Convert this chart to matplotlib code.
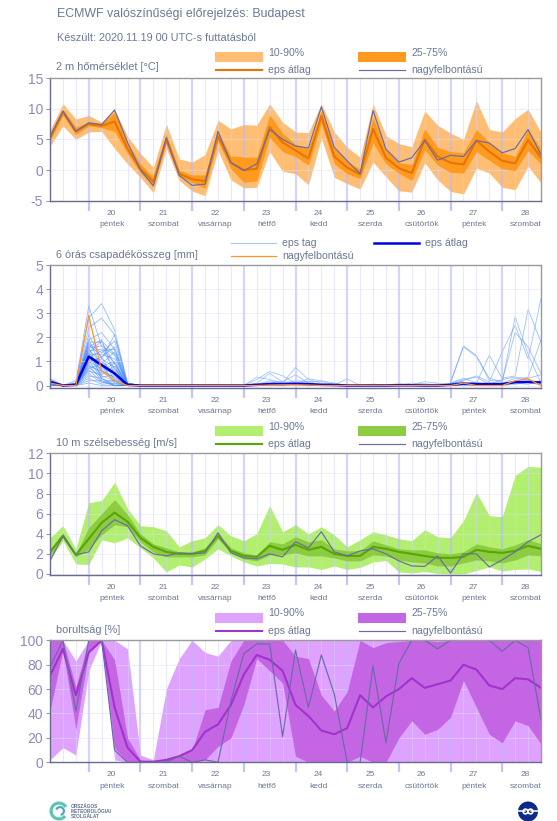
import numpy as np
import matplotlib
matplotlib.use("Agg")
import matplotlib.pyplot as plt
from matplotlib.patches import Circle, Rectangle, Wedge

# 6 hourly steps, first day line is step 3
hours = np.arange(39)
day_steps = np.arange(3, 36, 4)
day_nums = ['20', '21', '22', '23', '24', '25', '26', '27', '28']
day_names = ['péntek', 'szombat', 'vasárnap', 'hétfő', 'kedd', 'szerda', 'csütörtök', 'péntek', 'szombat']

### TEMPERATURE
t_p90 = [6.5,10.8,8.3,8.9,7.8,9.8,5.5,2.7,0.4,7.5,1.8,1.3,2.5,8.1,6.7,7.4,7.3,10.8,7.8,6.2,6.1,10.8,6.2,3.7,2.1,10.8,5.6,4.3,3.8,9.6,7.3,6.0,5.0,11.3,6.6,6.2,8.4,9.9,6.1]
t_p75 = [5.8,9.9,7.0,7.8,7.6,9.4,4.4,1.0,-1.2,5.8,0.0,-0.8,-0.8,6.2,2.3,2.1,2.1,9.0,6.0,4.2,3.5,9.7,3.5,1.4,0.1,8.6,3.3,1.2,0.9,6.7,3.7,3.0,2.8,6.6,4.5,2.8,2.2,6.6,3.4]
t_p25 = [4.8,8.9,5.8,7.2,6.9,6.3,2.7,-0.5,-2.5,4.3,-1.0,-2.0,-3.0,4.7,0.2,-2.0,-1.8,5.3,3.0,2.2,0.8,7.6,1.0,-0.6,-1.4,4.4,1.0,-0.5,-1.7,3.3,0.8,-0.4,-0.5,3.0,1.6,0.2,-0.1,3.1,1.0]
t_p10 = [3.9,7.2,5.0,6.2,6.3,3.5,1.0,-1.2,-3.7,3.5,-1.7,-3.4,-4.2,3.2,-1.6,-2.9,-2.8,3.0,-0.2,-0.6,-2.4,5.2,-1.2,-2.2,-3.1,1.3,-1.1,-3.4,-3.6,1.2,-1.6,-3.5,-3.9,0.3,-0.5,-2.8,-3.2,0.6,-2.1]
t_mean = [5.2,9.5,6.3,7.5,7.2,7.9,3.5,0.2,-1.9,5.0,-0.6,-1.5,-1.8,5.5,1.2,0.0,0.2,7.0,4.5,3.2,1.9,8.8,2.2,0.4,-0.7,6.7,2.0,0.3,-0.5,5.0,2.2,1.2,0.9,4.8,3.0,1.5,1.1,4.9,2.0]
t_hres = [5.5,9.6,6.3,7.7,7.4,9.8,4.5,0.0,-2.6,5.3,-0.9,-2.5,-2.3,6.3,1.2,-0.1,1.0,6.6,5.0,3.9,3.6,10.3,3.7,1.5,-0.6,9.7,3.4,1.3,2.0,4.8,1.6,2.4,2.2,4.8,4.4,2.8,3.5,6.6,2.5]

### PRECIPITATION
p_mean = [0.15,0.0,0.03,1.2,0.85,0.5,0.03,0,0,0,0,0,0,0,0,0,0.03,0.06,0.06,0.07,0.06,0.03,0.02,0,0,0,0,0.01,0.01,0,0,0.03,0.08,0.06,0.06,0.06,0.14,0.15,0.13]
p_hres = [0.1,0.0,0.0,2.9,0.6,0.2,0.0,0,0,0,0,0,0,0,0,0,0.0,0.02,0.03,0.03,0.02,0,0,0,0,0,0,0,0,0,0,0.0,0.1,0.0,0.0,0.0,0.2,0.28,0.0]
# members, steps 0-7
p_early = [
    [0.3,0.0,0.1,3.3,1.6,0.9,0.1,0], [0.25,0.0,0.2,2.8,3.4,2.3,0.1,0], [0.2,0.0,0.1,2.4,2.8,2.1,0.05,0],
    [0.2,0.0,0.05,2.1,1.1,2.1,0.05,0], [0.15,0.0,0.1,1.9,2.2,1.5,0.02,0], [0.15,0.0,0.0,1.8,1.8,0.9,0.0,0],
    [0.1,0.0,0.05,1.7,1.2,1.6,0.1,0], [0.1,0.0,0.0,1.6,1.9,0.4,0.0,0], [0.1,0.0,0.0,1.5,0.9,1.4,0.0,0],
    [0.05,0.0,0.0,1.45,1.5,0.7,0.0,0], [0.1,0.0,0.02,1.4,0.6,0.3,0.0,0], [0.2,0.0,0.0,1.3,1.3,1.1,0.1,0],
    [0.05,0.0,0.0,1.25,0.4,0.2,0.0,0], [0.1,0.0,0.0,1.2,1.0,0.5,0.0,0], [0.05,0.0,0.0,1.1,0.8,1.0,0.0,0],
    [0.1,0.0,0.0,1.05,0.3,0.05,0.0,0], [0.05,0.0,0.0,1.0,0.7,0.6,0.0,0], [0.0,0.0,0.0,0.95,1.2,0.2,0.0,0],
    [0.1,0.0,0.0,0.9,0.5,0.8,0.0,0], [0.05,0.0,0.0,0.85,0.2,0.0,0.0,0], [0.0,0.0,0.0,0.8,0.6,0.35,0.0,0],
    [0.05,0.0,0.0,0.7,0.9,0.1,0.0,0], [0.0,0.0,0.0,0.65,0.15,0.0,0.0,0], [0.1,0.0,0.0,0.6,0.45,0.7,0.0,0],
    [0.0,0.0,0.0,0.5,0.1,0.25,0.0,0], [0.0,0.0,0.0,0.4,0.3,0.0,0.0,0], [0.05,0.0,0.0,0.3,0.05,0.1,0.0,0],
    [0.0,0.0,0.0,0.2,0.2,0.0,0.0,0], [0.0,0.0,0.0,0.1,0.0,0.0,0.0,0], [0.1,0.0,0.0,1.75,1.35,1.85,0.05,0],
    [0.05,0.0,0.0,1.55,1.65,1.25,0.05,0], [0.1,0.0,0.0,1.35,1.85,1.3,0.0,0], [0.0,0.0,0.0,1.15,1.45,1.5,0.05,0],
    [0.05,0.0,0.0,1.9,0.75,0.55,0.0,0], [0.0,0.0,0.0,1.3,0.55,0.95,0.0,0], [0.1,0.0,0.0,1.0,1.1,0.75,0.0,0],
    [0.0,0.0,0.0,0.75,0.35,0.45,0.0,0], [0.05,0.0,0.0,1.6,0.25,0.15,0.0,0],
]
# members, steps 15-24
p_mid = [
    [0,0.35,0.25,0.1,0.75,0.25,0.1,0.05,0,0], [0,0.25,0.58,0.4,0.1,0.28,0.2,0.1,0.0,0], [0,0.1,0.5,0.15,0.45,0.1,0.05,0.0,0,0],
    [0,0.05,0.2,0.1,0.2,0.15,0.18,0.02,0.28,0], [0,0.02,0.15,0.05,0.15,0.05,0.02,0.0,0,0], [0,0.0,0.1,0.18,0.05,0.18,0.0,0.1,0,0],
    [0,0.0,0.05,0.0,0.1,0.0,0.0,0.0,0,0],
]
# members, steps 24-32
p_calm = [
    [0,0.06,0.02,0.08,0.04,0.16,0.1,0.05,0.2], [0,0.02,0.05,0.02,0.1,0.08,0.02,0.08,0.15], [0,0.0,0.01,0.05,0.02,0.04,0.06,0.01,0.1],
]
# members, steps 31-38 (first value at step 31)
p_late = [
    [0.15,1.65,1.25,0.2,0.2,2.2,1.6,0.5], [0.1,1.6,1.2,0.3,0.15,2.85,1.3,0.1], [0.1,0.3,0.1,1.25,0.3,0.4,3.15,1.8],
    [0.05,0.2,0.4,0.15,1.4,2.5,1.1,3.6], [0.1,0.25,0.35,0.05,0.25,0.35,0.3,0.45], [0.05,0.1,0.05,0.1,0.1,0.3,0.25,0.1],
    [0.0,0.05,0.15,0.0,0.05,0.15,0.35,1.9], [0.0,0.02,0.0,0.05,0.02,0.1,0.05,0.2], [0.0,0.0,0.03,0.0,0.0,0.05,0.12,0.03],
]

### WIND
w_p90 = [3.6,4.8,2.5,7.1,7.3,9.1,6.5,4.8,4.7,4.3,2.7,3.3,3.6,4.9,3.8,3.3,4.0,6.8,4.2,4.9,4.0,4.7,3.9,2.7,3.4,4.2,3.9,3.5,3.3,4.4,3.7,3.6,5.3,8.1,5.8,5.7,9.8,10.7,10.6]
w_p75 = [2.4,4.1,2.0,4.6,6.0,7.4,5.9,4.0,3.0,2.6,2.2,2.2,2.6,4.1,2.6,2.1,1.9,3.2,3.0,3.7,3.2,3.4,2.5,2.3,2.3,3.3,2.9,2.5,2.4,2.4,2.1,2.0,2.2,3.0,2.7,2.5,2.9,3.4,3.0]
w_p25 = [1.8,3.6,1.7,2.5,3.9,4.9,4.7,3.2,2.2,1.7,1.7,1.7,1.9,3.5,2.1,1.5,1.3,1.9,1.9,2.1,1.8,1.8,1.6,1.3,1.3,1.9,1.8,1.4,1.2,1.1,0.8,0.8,1.1,1.4,1.3,1.1,1.4,1.9,1.8]
w_p10 = [1.5,3.3,1.0,0.95,3.4,3.1,3.6,2.6,1.6,0.2,0.9,0.7,1.5,2.5,1.8,1.2,0.8,1.05,1.0,0.7,0.7,0.45,0.8,0.45,0.65,1.2,1.35,0.2,0.1,0.25,0.05,0.0,0.0,0.35,0.7,0.3,0.45,0.5,0.25]
w_mean = [2.2,3.8,1.9,3.5,5.1,6.1,5.2,3.6,2.7,2.2,2.0,2.0,2.3,3.8,2.3,1.8,1.7,2.8,2.4,2.9,2.4,2.7,2.0,1.8,1.8,2.7,2.5,2.2,2.0,1.8,1.6,1.6,1.7,2.4,2.2,2.1,2.3,2.8,2.5]
w_hres = [1.3,3.8,1.9,2.2,4.3,5.4,4.8,2.8,2.0,1.8,2.1,2.0,2.1,4.1,2.1,1.6,1.5,2.0,1.7,3.2,2.6,4.2,2.2,1.8,2.3,2.5,2.0,1.3,0.8,0.75,1.8,0.1,2.0,2.0,0.7,1.4,2.2,3.2,3.9]

### CLOUD COVER
c_p90 = [100,100,83,100,100,100,93,6,2,60,85,100,90,87,100,100,100,100,100,100,100,100,100,100,100,100,100,100,100,100,100,100,100,100,100,100,100,100,100]
c_p75 = [100,100,62,100,100,84,20,2,0,2,6,10,43,45,83,100,100,100,100,87,85,55,42,58,100,94,98,99,100,100,99,100,100,100,100,100,100,100,100]
c_p25 = [42,92,27,90,100,12,0,0,0,0,0,0,2,13,20,47,85,75,65,5,0,0,0,0,5,0,0,20,34,23,27,37,67,45,23,16,34,30,15]
c_p10 = [2,12,6,75,100,2,0,0,0,0,0,0,0,0,0,0,0,0,0,0,0,0,0,0,0,0,0,0,0,0,0,0,0,0,0,0,0,0,0]
c_mean = [71,93,55,90,100,45,12,0.5,0.5,2,5,10,25,31,47,72,88,84,75,47,38,26,23,28,55,45,54,60,69,61,64,67,80,76,63,60,69,68,61]
c_hres = [78,100,42,100,100,10,0,0,0,0,5,0,2,0,50,89,97,97,21,92,45,88,56,0,0,79,16,81,100,100,93,100,100,100,100,91,100,94,35]

W, H = 557, 821
TXT = '#6b7896'
TICK = '#8c8cbc'
plt.rcParams['font.family'] = 'Liberation Sans'
plt.rcParams['axes.unicode_minus'] = False

fig = plt.figure(figsize=(W/100, H/100), dpi=100)

# page axes in pixels, for legends and headings
page = fig.add_axes([0, 0, 1, 1], zorder=5)
page.set_xlim(0, W)
page.set_ylim(H, 0)
page.axis('off')


def make_panel(top, bottom, ylim, yticks):
    left, right = 50, 541
    ax = fig.add_axes([left/W, 1-bottom/H, (right-left)/W, (bottom-top)/H])
    ax.set_xlim(0, 38)
    ax.set_ylim(*ylim)
    ax.set_yticks(yticks)
    ax.set_xticks(day_steps)
    ax.set_xticks([h for h in hours if h not in day_steps], minor=True)
    ax.set_xticklabels([])
    ax.tick_params(axis='x', which='major', length=7, width=1.6, color='#c4c4fa')
    ax.tick_params(axis='x', which='minor', length=0)
    ax.tick_params(axis='y', length=3, width=0.7, color='#9090b0', labelsize=10, labelcolor=TICK, pad=2)
    ax.spines['left'].set_color('#6a6a8c')
    ax.spines['bottom'].set_color('#6a6a8c')
    ax.spines['top'].set_color('#9a9a9a')
    ax.spines['right'].set_color('#9a9a9a')
    for s in ax.spines.values():
        s.set_linewidth(1.0)
        s.set_zorder(8)
    h = bottom-top
    for d, num, name in zip(day_steps, day_nums, day_names):
        ax.text(d+1.75, -12.5/h, num, transform=ax.get_xaxis_transform(),
                ha='center', va='center', fontsize=6.0, color=TXT)
        ax.text(d+1.8, -24/h, name, transform=ax.get_xaxis_transform(),
                ha='center', va='center', fontsize=6.0, color=TXT)
    return ax


def grid_on_top(ax):
    ax.grid(True, axis='y', color='#dcdcff', lw=0.7, alpha=0.5, zorder=6)
    ax.grid(True, axis='x', which='minor', color='#d2d2ff', lw=0.7, alpha=0.55, zorder=6)
    ax.grid(True, axis='x', which='major', color='#b8b8fa', lw=1.6, alpha=0.6, zorder=6)
    ax.set_axisbelow(False)


def band_panel(ax, p90, p75, p25, p10, mean, hres, light, dark, line):
    ax.fill_between(hours, p10, p90, color=light, lw=0, zorder=2)
    ax.fill_between(hours, p25, p75, color=dark, lw=0, zorder=3)
    ax.plot(hours, mean, color=line, lw=1.5, zorder=4)
    ax.plot(hours, hres, color='#6a6aa6', lw=0.85, zorder=5)
    grid_on_top(ax)


def band_legend(y, light, dark, line):
    page.add_patch(Rectangle((215, y), 48, 10.5, color=light, lw=0))
    page.add_patch(Rectangle((358, y), 48, 10.5, color=dark, lw=0))
    page.text(268, y+0.5, '10-90%', fontsize=7.6, color=TXT, va='center')
    page.text(411, y+0.5, '25-75%', fontsize=7.6, color=TXT, va='center')
    page.plot([216, 262], [y+18, y+18], color=line, lw=1.5)
    page.plot([359, 405], [y+18, y+18], color='#6a6aa6', lw=0.85)
    page.text(268, y+18, 'eps átlag', fontsize=7.6, color=TXT, va='center')
    page.text(411, y+18, 'nagyfelbontású', fontsize=7.6, color=TXT, va='center')


# headings
page.text(57, 14, 'ECMWF valószínűségi előrejelzés: Budapest', fontsize=8.95, color=TXT, va='center')
page.text(57, 38, 'Készült: 2020.11.19 00 UTC-s futtatásból', fontsize=7.85, color=TXT, va='center')

# temperature
ax1 = make_panel(78, 200.7, (-5, 15), [-5, 0, 5, 10, 15])
band_panel(ax1, t_p90, t_p75, t_p25, t_p10, t_mean, t_hres, '#ffbe73', '#ff9a20', '#e87400')
band_legend(52, '#ffbe73', '#ff9a20', '#e87400')
page.text(56, 67, '2 m hőmérséklet [°C]', fontsize=7.95, color=TXT, va='center')

# precipitation
ax2 = make_panel(265, 387.7, (-0.09, 5), [0, 1, 2, 3, 4, 5])
for m in p_early:
    ax2.plot(hours[:8], m, color='#4a8cff', lw=0.6, alpha=0.6, zorder=2)
for m in p_mid:
    ax2.plot(hours[15:25], m, color='#5a96ff', lw=0.6, alpha=0.55, zorder=2)
for m in p_calm:
    ax2.plot(hours[24:33], m, color='#5a96ff', lw=0.6, alpha=0.55, zorder=2)
for m in p_late:
    ax2.plot(hours[31:39], m, color='#5a96ff', lw=0.6, alpha=0.6, zorder=2)
ax2.plot(hours, p_mean, color='#0000e6', lw=1.8, zorder=4)
ax2.plot(hours, p_hres, color='#ff9428', lw=0.9, zorder=5)
grid_on_top(ax2)
page.text(56, 255, '6 órás csapadékösszeg [mm]', fontsize=7.85, color=TXT, va='center')
page.plot([231, 276], [243, 243], color='#a8c4ff', lw=0.8)
page.plot([374, 419], [243, 243], color='#0000e6', lw=1.8)
page.plot([231, 276], [255.7, 255.7], color='#ff9428', lw=0.9)
page.text(282, 243, 'eps tag', fontsize=7.6, color=TXT, va='center')
page.text(425, 243, 'eps átlag', fontsize=7.6, color=TXT, va='center')
page.text(282, 255.7, 'nagyfelbontású', fontsize=7.6, color=TXT, va='center')

# wind
ax3 = make_panel(453.3, 575, (-0.1, 12), [0, 2, 4, 6, 8, 10, 12])
band_panel(ax3, w_p90, w_p75, w_p25, w_p10, w_mean, w_hres, '#b2ee70', '#8ccb42', '#56a800')
band_legend(426, '#b2ee70', '#8ccb42', '#56a800')
page.text(56, 443, '10 m szélsebesség [m/s]', fontsize=7.9, color=TXT, va='center')

# cloud cover
ax4 = make_panel(640.3, 762.3, (0, 100), [0, 20, 40, 60, 80, 100])
band_panel(ax4, c_p90, c_p75, c_p25, c_p10, c_mean, c_hres, '#e0a2ff', '#c466e4', '#a232cf')
band_legend(613, '#e0a2ff', '#c466e4', '#a232cf')
page.text(56, 630, 'borultság [%]', fontsize=7.9, color=TXT, va='center')

# logos
page.add_patch(Wedge((59, 811), 9.5, 40, 330, width=3.2, color='#5cc4b0', lw=0))
page.add_patch(Wedge((60, 811), 5, 200, 80, width=2.2, color='#4aa8c0', lw=0))
for y, s in zip([806, 811.5, 817], ['ORSZÁGOS', 'METEOROLÓGIAI', 'SZOLGÁLAT']):
    page.text(70.5, y, s, fontsize=3.4, color='#5a7090', va='center', fontweight='bold')
page.add_patch(Circle((528, 811.5), 10, color='#0c2a86', lw=0, clip_on=False))
page.plot([517, 525], [811.5, 811.5], color='white', lw=1.1)
page.plot([531, 540], [811.5, 811.5], color='white', lw=1.1)
page.add_patch(Circle((525.5, 811.5), 3.2, color='white', lw=0))
page.add_patch(Circle((530.5, 811.5), 3.2, color='white', lw=0))
page.add_patch(Circle((525.5, 811.5), 1.5, color='#0c2a86', lw=0))
page.add_patch(Circle((530.5, 811.5), 1.5, color='#0c2a86', lw=0))

fig.savefig('out.png', dpi=100)
